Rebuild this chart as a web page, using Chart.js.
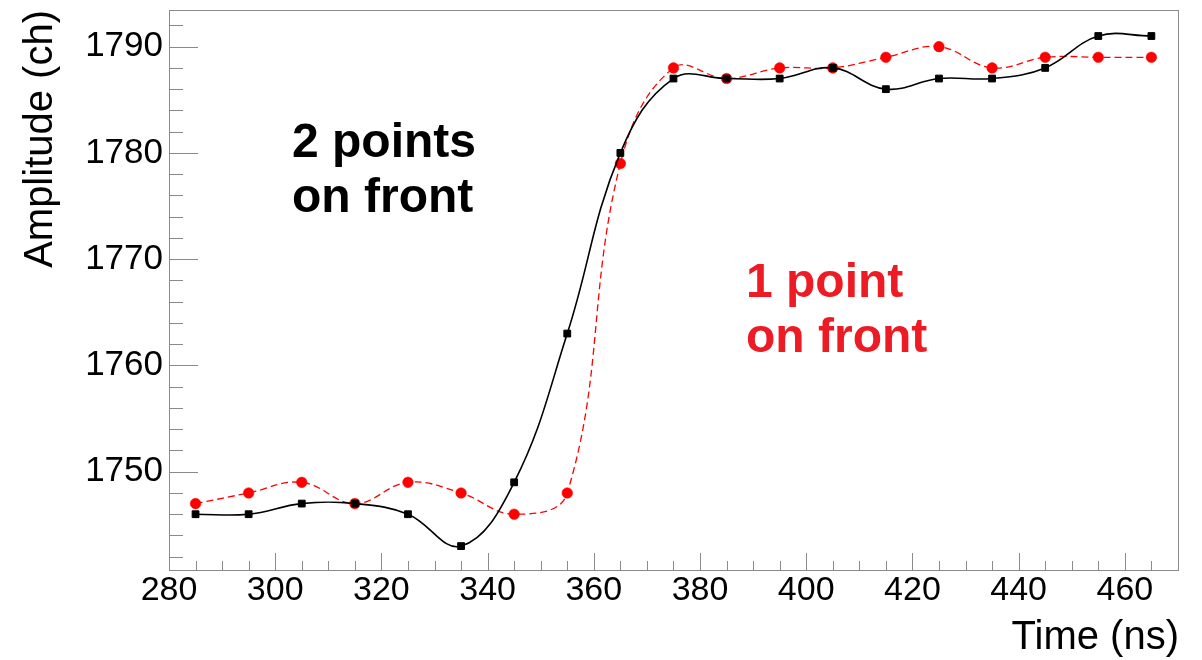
<!DOCTYPE html>
<html>
<head>
<meta charset="utf-8">
<title>Amplitude vs time</title>
<script src="https://cdn.jsdelivr.net/npm/chart.js@4/dist/chart.umd.min.js"></script>
<style>
  html, body { margin: 0; padding: 0; background: #fff; }
  #wrap { width: 1202px; height: 660px; position: relative; }
</style>
</head>
<body>
<div id="wrap"><canvas id="chart"></canvas></div>
<script>
// ==========================================
// DATA
// ==========================================
const times = [285, 295, 305, 315, 325, 335, 345, 355, 365, 375, 385, 395, 405, 415, 425, 435, 445, 455, 465];
const twoPointsFront = [1746, 1746, 1747, 1747, 1746, 1743, 1749, 1763, 1780, 1787, 1787, 1787, 1788, 1786, 1787, 1787, 1788, 1791, 1791];
const onePointFront = [1747, 1748, 1749, 1747, 1749, 1748, 1746, 1748, 1779, 1788, 1787, 1788, 1788, 1789, 1790, 1788, 1789, 1789, 1789];

const xMajorTicks = [280, 300, 320, 340, 360, 380, 400, 420, 440, 460];
const yMajorTicks = [1750, 1760, 1770, 1780, 1790];
const xRange = [280, 470.2];
const yRange = [1740.75, 1793.45];
const xMinorStep = 5;
const yMinorStep = 2;

const FONT = '"Liberation Sans", Arial, Helvetica, sans-serif';

// ==========================================
// PLUGINS
// ==========================================

// Cadre + graduations façon ROOT (vers l'intérieur)
const rootFrame = {
    id: 'rootFrame',
    beforeDatasetsDraw(chart) {
        const { ctx, chartArea: a, scales: { x, y } } = chart;
        ctx.save();
        ctx.strokeStyle = '#8a8a8a';
        ctx.lineWidth = 1;
        ctx.strokeRect(a.left + 0.5, a.top + 0.5, a.right - a.left - 1, a.bottom - a.top);

        ctx.beginPath();
        for (let v = Math.ceil(y.min / yMinorStep) * yMinorStep; v <= y.max; v += yMinorStep) {
            const py = Math.round(y.getPixelForValue(v)) + 0.5;
            const len = yMajorTicks.includes(v) ? 29 : 14;
            ctx.moveTo(a.left, py);
            ctx.lineTo(a.left + len, py);
        }
        for (let v = Math.ceil(x.min / xMinorStep) * xMinorStep; v <= x.max; v += xMinorStep) {
            const px = Math.round(x.getPixelForValue(v)) + 0.5;
            const len = xMajorTicks.includes(v) ? 17 : 9;
            ctx.moveTo(px, a.bottom);
            ctx.lineTo(px, a.bottom - len);
        }
        ctx.stroke();
        ctx.restore();
    }
};

// Annotations texte
const notes = {
    id: 'notes',
    afterDraw(chart) {
        const ctx = chart.ctx;
        ctx.save();
        ctx.font = 'bold 48px ' + FONT;
        ctx.textAlign = 'left';
        ctx.textBaseline = 'alphabetic';
        ctx.fillStyle = '#000000';
        ctx.fillText('2 points', 292, 157);
        ctx.fillText('on front', 292, 212);
        ctx.fillStyle = '#ed1c24';
        ctx.fillText('1 point', 746, 297);
        ctx.fillText('on front', 746, 352);
        ctx.restore();
    }
};

// ==========================================
// CHART
// ==========================================
new Chart(document.getElementById('chart'), {
    type: 'scatter',
    data: {
        datasets: [{
            label: '2 points on front',
            data: times.map((t, i) => ({ x: t, y: twoPointsFront[i] })),
            showLine: true,
            borderColor: '#000000',
            backgroundColor: '#000000',
            borderWidth: 1.6,
            tension: 0.4,
            pointStyle: 'rect',
            pointRadius: 4.8,
            pointBorderWidth: 1
        }, {
            label: '1 point on front',
            data: times.map((t, i) => ({ x: t, y: onePointFront[i] })),
            showLine: true,
            borderColor: '#ff0000',
            backgroundColor: '#ff0000',
            borderWidth: 1.3,
            borderDash: [7, 4],
            tension: 0.4,
            pointStyle: 'circle',
            pointRadius: 5.3,
            pointBorderWidth: 0.5
        }]
    },
    options: {
        responsive: true,
        maintainAspectRatio: false,
        animation: false,
        layout: { padding: { top: 10, right: 23, left: 0, bottom: 0 } },
        plugins: {
            legend: { display: false },
            tooltip: { enabled: false }
        },
        scales: {
            x: {
                type: 'linear',
                position: 'bottom',
                min: xRange[0],
                max: xRange[1],
                afterBuildTicks: s => { s.ticks = xMajorTicks.map(v => ({ value: v })); },
                afterFit: s => { s.height = 90; s.paddingLeft = 0; s.paddingRight = 0; },
                grid: { display: false, drawTicks: false },
                border: { display: false },
                ticks: {
                    color: '#000',
                    font: { family: FONT, size: 34, lineHeight: 1 },
                    padding: 4,
                    maxRotation: 0,
                    autoSkip: false,
                    callback: v => String(v)
                },
                title: {
                    display: true,
                    text: 'Time (ns)',
                    align: 'end',
                    color: '#000',
                    font: { family: FONT, size: 40, lineHeight: 1 },
                    padding: { top: 0, bottom: 2 }
                }
            },
            y: {
                type: 'linear',
                min: yRange[0],
                max: yRange[1],
                afterBuildTicks: s => { s.ticks = yMajorTicks.map(v => ({ value: v })); },
                afterFit: s => { s.width = 169; s.paddingTop = 0; s.paddingBottom = 0; },
                grid: { display: false, drawTicks: false },
                border: { display: false },
                ticks: {
                    color: '#000',
                    font: { family: FONT, size: 35, lineHeight: 1 },
                    padding: 6,
                    autoSkip: false,
                    callback: v => String(v)
                },
                title: {
                    display: true,
                    text: 'Amplitude (ch)',
                    align: 'end',
                    color: '#000',
                    font: { family: FONT, size: 40, lineHeight: 1 },
                    padding: { top: 21, bottom: 0 }
                }
            }
        }
    },
    plugins: [rootFrame, notes]
});
</script>
</body>
</html>
